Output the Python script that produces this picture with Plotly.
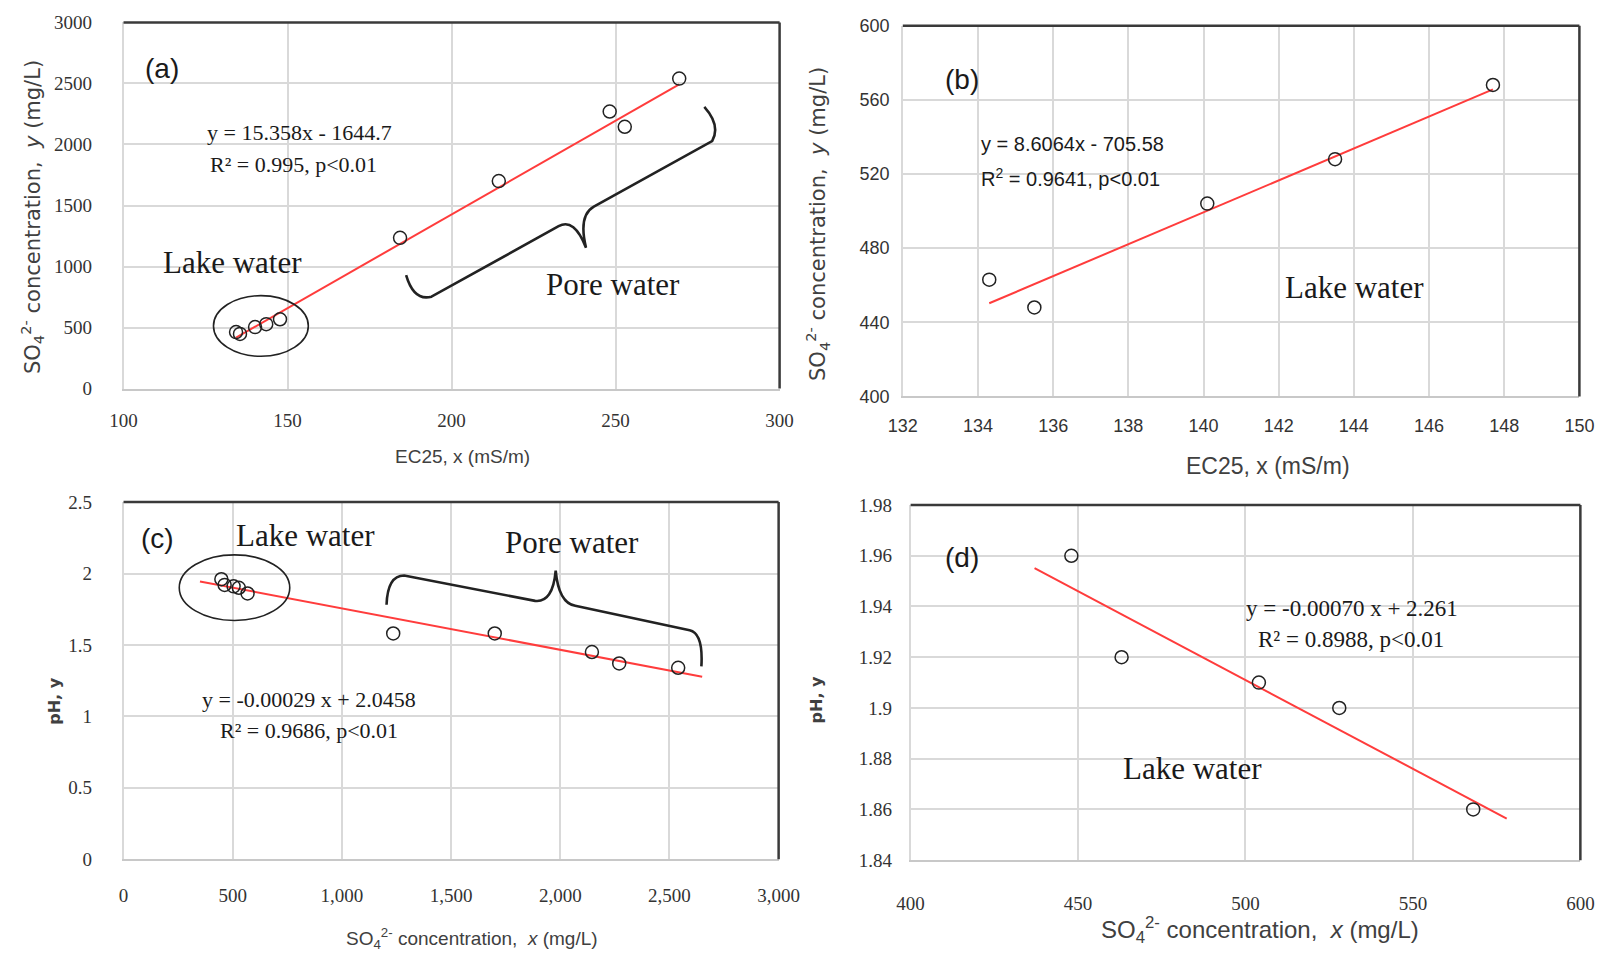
import plotly.graph_objects as go

W, H = 1618, 968

# ---------------- data ----------------
lake_ec = [134.3, 135.5, 140.1, 143.5, 147.7]
lake_so4 = [463, 448, 504, 528, 568]
lake_ph = [1.92, 1.96, 1.91, 1.90, 1.86]

pore_ec = [184.3, 214.4, 248.2, 252.8, 269.4]
pore_so4 = [1235, 1700, 2270, 2145, 2540]
pore_ph = [1.58, 1.58, 1.37, 1.45, 1.34]

fit_a = (15.358, -1644.7)
fit_b = (8.6064, -705.58)
fit_c = (-0.00029, 2.0458)
fit_d = (-0.00070, 2.261)
fit_c_range = [350, 2650]
fit_d_range = [437, 578]

all_ec = lake_ec + pore_ec
all_so4 = lake_so4 + pore_so4
all_ph = lake_ph + pore_ph

SERIF = "Liberation Serif"
SANS = "Liberation Sans"
NARROW = "Liberation Sans Narrow, Liberation Sans"
WIDE = "DejaVu Sans"
TXT = "#333333"
GRID = "#d9d9d9"
RED = "#ff3c3c"


def P(px, py):
    return px / W, 1 - py / H


def line_pts(fit, x0, x1):
    m, b = fit
    return [x0, x1], [m * x0 + b, m * x1 + b]


fig = go.Figure()
marker = dict(symbol="circle-open", size=13, color="#222222", line=dict(width=1.5))

panels = [
    ("x", "y", all_ec, all_so4, fit_a, [min(all_ec), max(all_ec)]),
    ("x2", "y2", lake_ec, lake_so4, fit_b, [min(lake_ec), max(lake_ec)]),
    ("x3", "y3", all_so4, all_ph, fit_c, fit_c_range),
    ("x4", "y4", lake_so4, lake_ph, fit_d, fit_d_range),
]
for xa, ya, xs, ys, fit, rng in panels:
    lx, ly = line_pts(fit, rng[0], rng[1])
    fig.add_trace(go.Scatter(x=lx, y=ly, mode="lines", line=dict(color=RED, width=2),
                             xaxis=xa, yaxis=ya, showlegend=False, hoverinfo="skip"))
    fig.add_trace(go.Scatter(x=xs, y=ys, mode="markers", marker=marker,
                             xaxis=xa, yaxis=ya, showlegend=False))

# ---------------- axes ----------------
def xax(dom, rng, dtick, anchor, font, size, standoff, fmt=None):
    d = dict(domain=[dom[0] / W, dom[1] / W], range=rng, dtick=dtick, tick0=rng[0], anchor=anchor,
             showgrid=True, gridcolor=GRID, gridwidth=1.5, zeroline=False,
             showline=True, linecolor="#c8c8c8", linewidth=1.5, ticks="",
             tickfont=dict(family=font, size=size, color=TXT), ticklabelstandoff=standoff)
    if fmt:
        d["tickformat"] = fmt
    return d


def yax(dom, rng, dtick, anchor, font, size, standoff):
    return dict(domain=[1 - dom[1] / H, 1 - dom[0] / H], range=rng, dtick=dtick, tick0=rng[0],
                anchor=anchor, showgrid=True, gridcolor=GRID, gridwidth=1.5, zeroline=False,
                showline=True, linecolor="#d9d9d9", linewidth=1.5, ticks="",
                tickfont=dict(family=font, size=size, color=TXT), ticklabelstandoff=standoff)


fig.update_layout(
    xaxis=xax((111, 782), [100, 300], 50, "y", SERIF, 19, 14),
    yaxis=yax((12.7, 387), [0, 3000], 500, "x", SERIF, 19, 26),
    xaxis2=xax((908, 1600), [132, 150], 2, "y2", NARROW, 18, 12),
    yaxis2=yax((16, 395), [400, 600], 40, "x2", NARROW, 18, 8),
    xaxis3=xax((111, 781), [0, 3000], 500, "y3", SERIF, 19, 18, ","),
    yaxis3=yax((503, 868), [0, 2.5], 0.5, "x3", SERIF, 19, 26),
    xaxis4=xax((916, 1601), [400, 600], 50, "y4", SERIF, 19, 25),
    yaxis4=yax((506, 869), [1.84, 1.98], 0.02, "x4", SERIF, 19, 13),
)

shapes = []
# dark top/right frame lines
for xa, ya in [("x", "y"), ("x2", "y2"), ("x3", "y3"), ("x4", "y4")]:
    shapes.append(dict(type="line", xref=f"{xa} domain", yref=f"{ya} domain", x0=0, x1=1, y0=1, y1=1,
                       line=dict(color="#3a3a3a", width=2.5)))
    shapes.append(dict(type="line", xref=f"{xa} domain", yref=f"{ya} domain", x0=1, x1=1, y0=0, y1=1,
                       line=dict(color="#3a3a3a", width=2.5)))

# white label boxes (over gridlines, under traces)
for bx0, by0, bx1, by1 in [(112, 30, 201, 90), (909, 40, 1005, 98), (198, 680, 422, 760),
                           (917, 530, 1006, 590), (1240, 595, 1468, 662)]:
    x0, y0 = P(bx0, by1)
    x1, y1 = P(bx1, by0)
    shapes.append(dict(type="rect", xref="paper", yref="paper", x0=x0, x1=x1, y0=y0, y1=y1,
                       fillcolor="white", line=dict(width=0), layer="between"))

# ellipses
for ex0, ey0, ex1, ey1 in [(203, 292, 300, 354), (168, 557, 281, 624)]:
    x0, y0 = P(ex0, ey1)
    x1, y1 = P(ex1, ey0)
    shapes.append(dict(type="circle", xref="paper", yref="paper", x0=x0, x1=x1, y0=y0, y1=y1,
                       line=dict(color="#222222", width=1.6)))


def path(cmds):
    out = []
    for c in cmds:
        if isinstance(c, str):
            out.append(c)
        else:
            x, y = P(*c)
            out.append(f"{x:.5f},{y:.5f}")
    return " ".join(out)


brace_a = ["M", (400, 271), "Q", (408, 298), (426, 293), "L", (556, 221), "Q", (572, 212), (584, 243),
           "Q", (576, 210), (592, 201), "L", (713, 134), "Q", (722, 118), (705, 99)]
brace_c = ["M", (380, 608), "Q", (381, 578), (398, 578), "L", (532, 604), "Q", (550, 606), (553, 573),
           "Q", (556, 606), (573, 609), "L", (690, 634), "Q", (704, 637), (702, 671)]
for b in (brace_a, brace_c):
    shapes.append(dict(type="path", xref="paper", yref="paper", path=path(b),
                       line=dict(color="#222222", width=2.6)))

fig.update_layout(shapes=shapes)

# ---------------- text ----------------
ann = []


def T(px, py, text, family, size, angle=0, color="#1a1a1a"):
    x, y = P(px, py)
    ann.append(dict(x=x, y=y, xref="paper", yref="paper", text=text, showarrow=False,
                    xanchor="center", yanchor="middle", textangle=angle,
                    font=dict(family=family, size=size, color=color)))


# panel labels
T(150, 60, "(a)", SANS, 28)
T(969, 71, "(b)", SANS, 28)
T(146, 540, "(c)", SANS, 28)
T(969, 560, "(d)", SANS, 28)

# equations
T(291, 125, "y = 15.358x - 1644.7", SERIF, 22)
T(285, 158, "R² = 0.995, p<0.01", SERIF, 22)
T(1082, 137, "y = 8.6064x - 705.58", NARROW, 20)
T(1080, 171, "R<sup>2</sup> = 0.9641, p<0.01", NARROW, 20)
T(301, 705, "y = -0.00029 x + 2.0458", SERIF, 22)
T(301, 736, "R² = 0.9686, p<0.01", SERIF, 22)
T(1367, 612, "y = -0.00070 x + 2.261", SERIF, 23)
T(1366, 643, "R² = 0.8988, p<0.01", SERIF, 23)

# group labels
T(222, 258, "Lake water", SERIF, 31)
T(612, 281, "Pore water", SERIF, 31)
T(1370, 284, "Lake water", SERIF, 31)
T(297, 537, "Lake water", SERIF, 31)
T(570, 544, "Pore water", SERIF, 31)
T(1204, 775, "Lake water", SERIF, 31)

# axis titles
so4_y = "SO<sub>4</sub><sup>2-</sup> concentration,  <i>y</i> (mg/L)"
so4_x = "SO<sub>4</sub><sup>2-</sup> concentration,  <i>x</i> (mg/L)"
T(458, 456, "EC25, x (mS/m)", SANS, 19, color="#404040")
T(1282, 466, "EC25, x (mS/m)", SANS, 23, color="#404040")
T(467, 949, so4_x, NARROW, 19, color="#404040")
T(1273, 940, so4_x, NARROW, 24, color="#404040")
T(18, 212, so4_y, WIDE, 21, angle=-90, color="#404040")
T(821, 219, so4_y, WIDE, 21, angle=-90, color="#404040")
T(41, 707, "<b>pH, y</b>", WIDE, 16, angle=-90, color="#404040")
T(820, 705, "<b>pH, y</b>", WIDE, 16, angle=-90, color="#404040")

fig.update_layout(annotations=ann, width=W, height=H, margin=dict(l=0, r=0, t=0, b=0),
                  paper_bgcolor="white", plot_bgcolor="white", showlegend=False)

fig.write_html("out.html")
